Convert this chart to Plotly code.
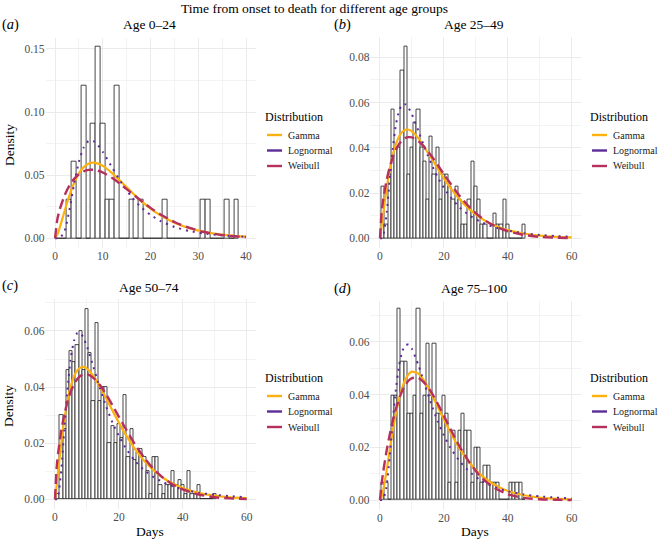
import plotly.graph_objects as go
from plotly.subplots import make_subplots

# ---- histogram data (bin centres in days, density) ----
a_bins = list(range(1, 39))
a_density = [0, 0, 0.0303, 0.0606, 0, 0.1212, 0, 0.0909, 0.1515, 0.0909,
             0.0303, 0.0303, 0.1212, 0, 0, 0.0303, 0, 0.0303, 0, 0,
             0, 0, 0.0303, 0, 0, 0, 0, 0, 0, 0,
             0.0303, 0.0303, 0, 0, 0, 0.0303, 0, 0.0303]

b_bins = list(range(1, 46))
b_density = [0.023, 0.006, 0.028, 0.057, 0.040, 0.040, 0.074, 0.085, 0.028, 0.040,
             0.051, 0.057, 0.040, 0.034, 0.017, 0.045, 0.028, 0.040, 0.017, 0.028,
             0.028, 0.023, 0.017, 0.023, 0.017, 0.006, 0.006, 0.017, 0.034, 0.023,
             0.017, 0.006, 0.006, 0, 0, 0.011, 0.006, 0.006, 0.017, 0.006,
             0, 0, 0, 0, 0.006]

c_bins = list(range(1, 51))
c_density = [0.002, 0.030, 0.025, 0.046, 0.053, 0.049, 0.055, 0.060, 0.046, 0.068,
             0.052, 0.035, 0.063, 0.035, 0.040, 0.040, 0.020, 0.026, 0.020, 0.027,
             0.022, 0.037, 0.015, 0.025, 0.014, 0.017, 0.018, 0.015, 0.010, 0.002,
             0.015, 0.015, 0.005, 0.002, 0.005, 0.005, 0.010, 0.005, 0.007, 0.005,
             0.002, 0.010, 0.002, 0.002, 0.005, 0, 0, 0, 0, 0.002]

d_bins = list(range(1, 46))
d_density = [0.0066, 0.0066, 0, 0.0395, 0.0395, 0.0724, 0.0526, 0.0526, 0.0329, 0.0329,
             0.0395, 0.0724, 0.0329, 0.0395, 0.0592, 0.0395, 0.0592, 0.0329, 0.0329, 0.0395,
             0.0329, 0.0066, 0.0263, 0.0066, 0.0263, 0.0329, 0.0263, 0.0263, 0.0066, 0.0197,
             0.0197, 0.0066, 0.0132, 0.0132, 0.0066, 0.0066, 0.0066, 0, 0, 0,
             0.0066, 0.0066, 0.0066, 0.0066, 0]

# ---- fitted density curves ----
a_x = [0, 0.5, 1, 2, 3, 4, 5, 6, 7, 8, 9, 10, 12, 14, 16, 18, 20, 22, 25, 28, 31, 34, 37, 40]
a_gamma = [0, 0.0032, 0.0087, 0.0216, 0.0339, 0.0440, 0.0515, 0.0564, 0.0591, 0.0599, 0.0592, 0.0574,
           0.0515, 0.0442, 0.0367, 0.0297, 0.0236, 0.0184, 0.0124, 0.0082, 0.0053, 0.0034, 0.0021, 0.0013]
a_lognormal = [0, 0, 0.0002, 0.0058, 0.0223, 0.0431, 0.0607, 0.0720, 0.0770, 0.0771, 0.0738, 0.0685,
               0.0558, 0.0434, 0.0330, 0.0248, 0.0185, 0.0139, 0.0090, 0.0059, 0.0039, 0.0026, 0.0018, 0.0012]
a_weibull = [0, 0.0155, 0.0231, 0.0340, 0.0417, 0.0471, 0.0508, 0.0531, 0.0542, 0.0543, 0.0535, 0.0521,
             0.0477, 0.0420, 0.0359, 0.0298, 0.0241, 0.0191, 0.0129, 0.0084, 0.0052, 0.0031, 0.0018, 0.0010]

days = [0, 0.5, 1, 2, 3, 4, 5, 6, 7, 8, 9, 10, 12, 14, 16, 18, 20, 22, 25, 28, 31, 34, 37, 40, 45, 50, 55, 60]
b_gamma = [0, 0.0050, 0.0106, 0.0212, 0.0300, 0.0368, 0.0417, 0.0451, 0.0471, 0.0480, 0.0480, 0.0473, 0.0443, 0.0400,
           0.0356, 0.0310, 0.0265, 0.0224, 0.0171, 0.0128, 0.0095, 0.0069, 0.0050, 0.0036, 0.0021, 0.0012, 0.0006, 0.0004]
b_lognormal = [0, 0, 0.0010, 0.0100, 0.0252, 0.0397, 0.0503, 0.0565, 0.0592, 0.0592, 0.0575, 0.0547, 0.0475, 0.0400,
               0.0331, 0.0272, 0.0223, 0.0183, 0.0135, 0.0101, 0.0076, 0.0058, 0.0044, 0.0034, 0.0022, 0.0015, 0.0010, 0.0007]
b_weibull = [0, 0.0113, 0.0170, 0.0252, 0.0312, 0.0358, 0.0392, 0.0417, 0.0434, 0.0444, 0.0447, 0.0446, 0.0430, 0.0402,
             0.0366, 0.0325, 0.0283, 0.0243, 0.0186, 0.0138, 0.0099, 0.0069, 0.0047, 0.0031, 0.0015, 0.0006, 0.0003, 0.0001]

c_gamma = [0, 0.0047, 0.0101, 0.0203, 0.0289, 0.0357, 0.0405, 0.0440, 0.0460, 0.0470, 0.0472, 0.0466, 0.0440, 0.0401,
           0.0360, 0.0316, 0.0273, 0.0233, 0.0180, 0.0136, 0.0102, 0.0075, 0.0055, 0.0040, 0.0023, 0.0013, 0.0007, 0.0004]
c_lognormal = [0, 0, 0.0012, 0.0108, 0.0262, 0.0405, 0.0508, 0.0567, 0.0593, 0.0592, 0.0574, 0.0545, 0.0473, 0.0399,
               0.0331, 0.0273, 0.0225, 0.0185, 0.0137, 0.0103, 0.0078, 0.0060, 0.0046, 0.0035, 0.0023, 0.0016, 0.0011, 0.0007]
c_weibull = [0, 0.0110, 0.0166, 0.0247, 0.0306, 0.0352, 0.0386, 0.0411, 0.0429, 0.0440, 0.0445, 0.0446, 0.0433, 0.0408,
             0.0374, 0.0335, 0.0294, 0.0254, 0.0196, 0.0147, 0.0106, 0.0075, 0.0052, 0.0035, 0.0017, 0.0007, 0.0003, 0.0001]

d_gamma = [0, 0.0011, 0.0036, 0.0106, 0.0185, 0.0262, 0.0329, 0.0385, 0.0428, 0.0459, 0.0478, 0.0487, 0.0479, 0.0449,
           0.0405, 0.0355, 0.0305, 0.0257, 0.0193, 0.0142, 0.0101, 0.0072, 0.0050, 0.0034, 0.0018, 0.0009, 0.0005, 0.0002]
d_lognormal = [0, 0, 0.0002, 0.0048, 0.0160, 0.0298, 0.0421, 0.0511, 0.0565, 0.0588, 0.0589, 0.0573, 0.0512, 0.0438,
               0.0365, 0.0300, 0.0245, 0.0199, 0.0146, 0.0107, 0.0079, 0.0059, 0.0044, 0.0033, 0.0021, 0.0014, 0.0009, 0.0006]
d_weibull = [0, 0.0061, 0.0106, 0.0182, 0.0245, 0.0300, 0.0346, 0.0384, 0.0415, 0.0437, 0.0453, 0.0462, 0.0463, 0.0443,
             0.0410, 0.0367, 0.0319, 0.0270, 0.0201, 0.0142, 0.0095, 0.0061, 0.0038, 0.0022, 0.0008, 0.0003, 0.0001, 0.0]

titles = ["Age 0\u201324", "Age 25\u201349", "Age 50\u201374", "Age 75\u2013100"]
tags = ["a", "b", "c", "d"]
dist_names = ["Gamma", "Lognormal", "Weibull"]

FONT = "Liberation Serif, Times New Roman, serif"
W, H = 658, 540
COLORS = {"Gamma": "#FDB10F", "Lognormal": "#5B2C98", "Weibull": "#B5305E"}
DASH = {"Gamma": "solid", "Lognormal": "2px,5px", "Weibull": "10px,5px"}
WIDTH = {"Gamma": 2.2, "Lognormal": 2.0, "Weibull": 2.4}


def px(x):
    return x / W


def py(y):
    return 1 - y / H


panels = [
    dict(bins=a_bins, dens=a_density, x=a_x, curves=[a_gamma, a_lognormal, a_weibull],
         xd=(45.5, 255.6), yd=(247.9, 37.6), xr=[-2, 42], yr=[-0.0076, 0.159], dx=10, dy=0.05),
    dict(bins=b_bins, dens=b_density, x=days, curves=[b_gamma, b_lognormal, b_weibull],
         xd=(370.4, 581.3), yd=(247.9, 36.5), xr=[-3, 63], yr=[-0.00425, 0.0892], dx=20, dy=0.02),
    dict(bins=c_bins, dens=c_density, x=days, curves=[c_gamma, c_lognormal, c_weibull],
         xd=(45.4, 256.3), yd=(508.8, 299.0), xr=[-3, 63], yr=[-0.0034, 0.0714], dx=20, dy=0.02),
    dict(bins=d_bins, dens=d_density, x=days, curves=[d_gamma, d_lognormal, d_weibull],
         xd=(370.4, 581.3), yd=(509.5, 300.6), xr=[-3, 63], yr=[-0.0036, 0.0756], dx=20, dy=0.02),
]

fig = make_subplots(rows=2, cols=2)

for i, p in enumerate(panels):
    r, c = i // 2 + 1, i % 2 + 1
    fig.add_trace(go.Bar(
        x=p["bins"], y=p["dens"], width=1,
        marker=dict(color="white", line=dict(color="#1a1a1a", width=0.8)),
        showlegend=False, hoverinfo="skip"), row=r, col=c)
    for name, ys in zip(dist_names, p["curves"]):
        fig.add_trace(go.Scatter(
            x=p["x"], y=ys, mode="lines", name=name, showlegend=False,
            line=dict(color=COLORS[name], width=WIDTH[name], dash=DASH[name], shape="spline", smoothing=0.6)),
            row=r, col=c)

    ax = "" if i == 0 else str(i + 1)
    fig.layout["xaxis" + ax].update(
        domain=[px(p["xd"][0]), px(p["xd"][1])], range=p["xr"],
        tick0=0, dtick=p["dx"], showgrid=True, gridcolor="#EBEBEB", gridwidth=1,
        minor=dict(showgrid=True, dtick=p["dx"] / 2, gridcolor="#F3F3F3", gridwidth=0.6),
        zeroline=False, showline=False, ticks="",
        tickfont=dict(family=FONT, size=11.5, color="#4D4D4D"))
    fig.layout["yaxis" + ax].update(
        domain=[py(p["yd"][0]), py(p["yd"][1])], range=p["yr"],
        tick0=0, dtick=p["dy"], tickformat=".2f", showgrid=True, gridcolor="#EBEBEB", gridwidth=1,
        minor=dict(showgrid=True, dtick=p["dy"] / 2, gridcolor="#F3F3F3", gridwidth=0.6),
        zeroline=False, showline=False, ticks="",
        tickfont=dict(family=FONT, size=11.5, color="#4D4D4D"))

annotations = []


def text(x, y, s, size, xanchor="center", angle=0, color="black"):
    annotations.append(dict(
        x=px(x), y=py(y), xref="paper", yref="paper", text=s, showarrow=False,
        xanchor=xanchor, yanchor="middle", textangle=angle,
        font=dict(family=FONT, size=size, color=color)))


text(314, 8, "Time from onset to death for different age groups", 13.5)

title_pos = [(149, 25), (474, 25), (149, 287), (474, 288)]
tag_pos = [(0, 25), (332, 25), (0, 285), (332, 288)]
for t, (x, y) in zip(titles, title_pos):
    text(x, y, t, 13.5)
for t, (x, y) in zip(tags, tag_pos):
    text(x, y, "(<i>%s</i>)" % t, 14.5, xanchor="left")

text(9, 145, "Density", 13.5, angle=-90)
text(8, 406, "Density", 13.5, angle=-90)
text(150, 531, "Days", 13.5)
text(475, 531, "Days", 13.5)

# per-panel legends
shapes = []
legend_pos = [(263, 117), (588, 117), (263, 378), (588, 378)]
for lx, ly in legend_pos:
    text(lx, ly, "Distribution", 12, xanchor="left")
    for k, name in enumerate(dist_names):
        yy = ly + 18 + k * 15.5
        shapes.append(dict(type="line", xref="paper", yref="paper",
                           x0=px(lx + 4), x1=px(lx + 19), y0=py(yy), y1=py(yy),
                           line=dict(color=COLORS[name], width=2.4)))
        text(lx + 23, yy, name, 10, xanchor="left", color="#1a1a1a")

fig.update_layout(
    width=W, height=H,
    margin=dict(l=0, r=0, t=0, b=0),
    paper_bgcolor="white", plot_bgcolor="white",
    bargap=0, barmode="overlay",
    font=dict(family=FONT, color="black"),
    annotations=annotations, shapes=shapes,
    showlegend=False,
)

# drop the default 8px page margin so the 658x540 figure fills the window
fig.write_html("out.html", config={"displayModeBar": False},
               post_script="document.body.style.margin='0';document.body.style.overflow='hidden';")
